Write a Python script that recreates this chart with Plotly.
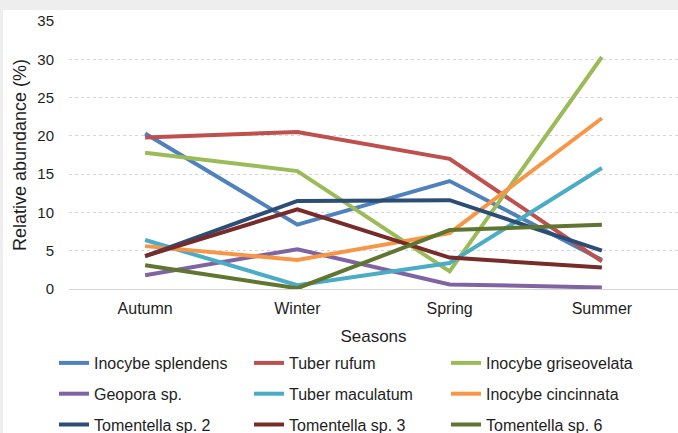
import plotly.graph_objects as go

seasons = ["Autumn", "Winter", "Spring", "Summer"]

inocybe_splendens = [20.3, 8.4, 14.1, 3.8]
tuber_rufum = [19.8, 20.5, 17.0, 3.6]
inocybe_griseovelata = [17.8, 15.4, 2.3, 30.3]
geopora_sp = [1.8, 5.2, 0.6, 0.2]
tuber_maculatum = [6.4, 0.5, 3.4, 15.8]
inocybe_cincinnata = [5.6, 3.8, 7.3, 22.3]
tomentella_sp2 = [4.3, 11.5, 11.6, 5.0]
tomentella_sp3 = [4.3, 10.4, 4.1, 2.8]
tomentella_sp6 = [3.1, 0.1, 7.7, 8.4]

series = [
    ("Inocybe splendens", inocybe_splendens, "#4F81BD", "legend"),
    ("Tuber rufum", tuber_rufum, "#C0504D", "legend2"),
    ("Inocybe griseovelata", inocybe_griseovelata, "#9BBB59", "legend3"),
    ("Geopora sp.", geopora_sp, "#8064A2", "legend"),
    ("Tuber maculatum", tuber_maculatum, "#4BACC6", "legend2"),
    ("Inocybe cincinnata", inocybe_cincinnata, "#F79646", "legend3"),
    ("Tomentella sp. 2", tomentella_sp2, "#2C4D75", "legend"),
    ("Tomentella sp. 3", tomentella_sp3, "#772C2A", "legend2"),
    ("Tomentella sp. 6", tomentella_sp6, "#5F7530", "legend3"),
]

FONT = "Liberation Sans, Arial, sans-serif"
TXT = "#1E1E1E"

fig = go.Figure()
for i, (name, vals, col, lg) in enumerate(series):
    fig.add_trace(go.Scatter(
        x=seasons, y=vals, name=name, mode="lines",
        line=dict(color=col, width=4),
        legend=lg, legendgroup=name,
    ))

W, H = 678, 433
L, R, T, B = 69, 0, 21, 144
pw, ph = W - L - R, H - T - B

def px2x(px):
    return (px - L) / pw

def py2y(py):
    return (H - B - py) / ph

leg_common = dict(
    orientation="v", xanchor="left", yanchor="top",
    font=dict(family=FONT, size=16, color=TXT),
    bgcolor="rgba(0,0,0,0)", tracegroupgap=7, traceorder="grouped",
    itemwidth=30,
)

fig.update_layout(
    width=W, height=H,
    margin=dict(l=L, r=R, t=T, b=B, autoexpand=False),
    paper_bgcolor="#EEEEEE",
    plot_bgcolor="white",
    font=dict(family=FONT, size=16, color=TXT),
    shapes=[dict(
        type="rect", xref="paper", yref="paper",
        x0=px2x(3), x1=px2x(W + 2), y0=py2y(H + 2), y1=py2y(10),
        fillcolor="white", line=dict(width=0), layer="below",
    )],
    legend=dict(x=px2x(54), y=py2y(346), **leg_common),
    legend2=dict(x=px2x(249), y=py2y(346), **leg_common),
    legend3=dict(x=px2x(446), y=py2y(346), **leg_common),
    xaxis=dict(
        type="category", range=[-0.5, 3.5],
        showgrid=False, showline=False, zeroline=False,
        ticks="", ticklabelstandoff=8,
        tickfont=dict(family=FONT, size=16, color=TXT),
        title=dict(text="Seasons", standoff=14,
                   font=dict(family=FONT, size=17, color=TXT)),
    ),
    yaxis=dict(
        range=[0, 35], dtick=5, tick0=0,
        showgrid=True, gridcolor="#D6D6D6", griddash="dot", gridwidth=1,
        zeroline=True, zerolinecolor="#D6D6D6", zerolinewidth=1,
        showline=False, ticks="", ticklabelstandoff=14,
        tickfont=dict(family=FONT, size=15, color=TXT),
        title=dict(text="Relative abundance (%)", standoff=6,
                   font=dict(family=FONT, size=18, color=TXT)),
    ),
)

fig.write_html(
    "out.html",
    config={"displayModeBar": False},
    post_script="document.body.style.margin='0';document.body.style.overflow='hidden';",
)
